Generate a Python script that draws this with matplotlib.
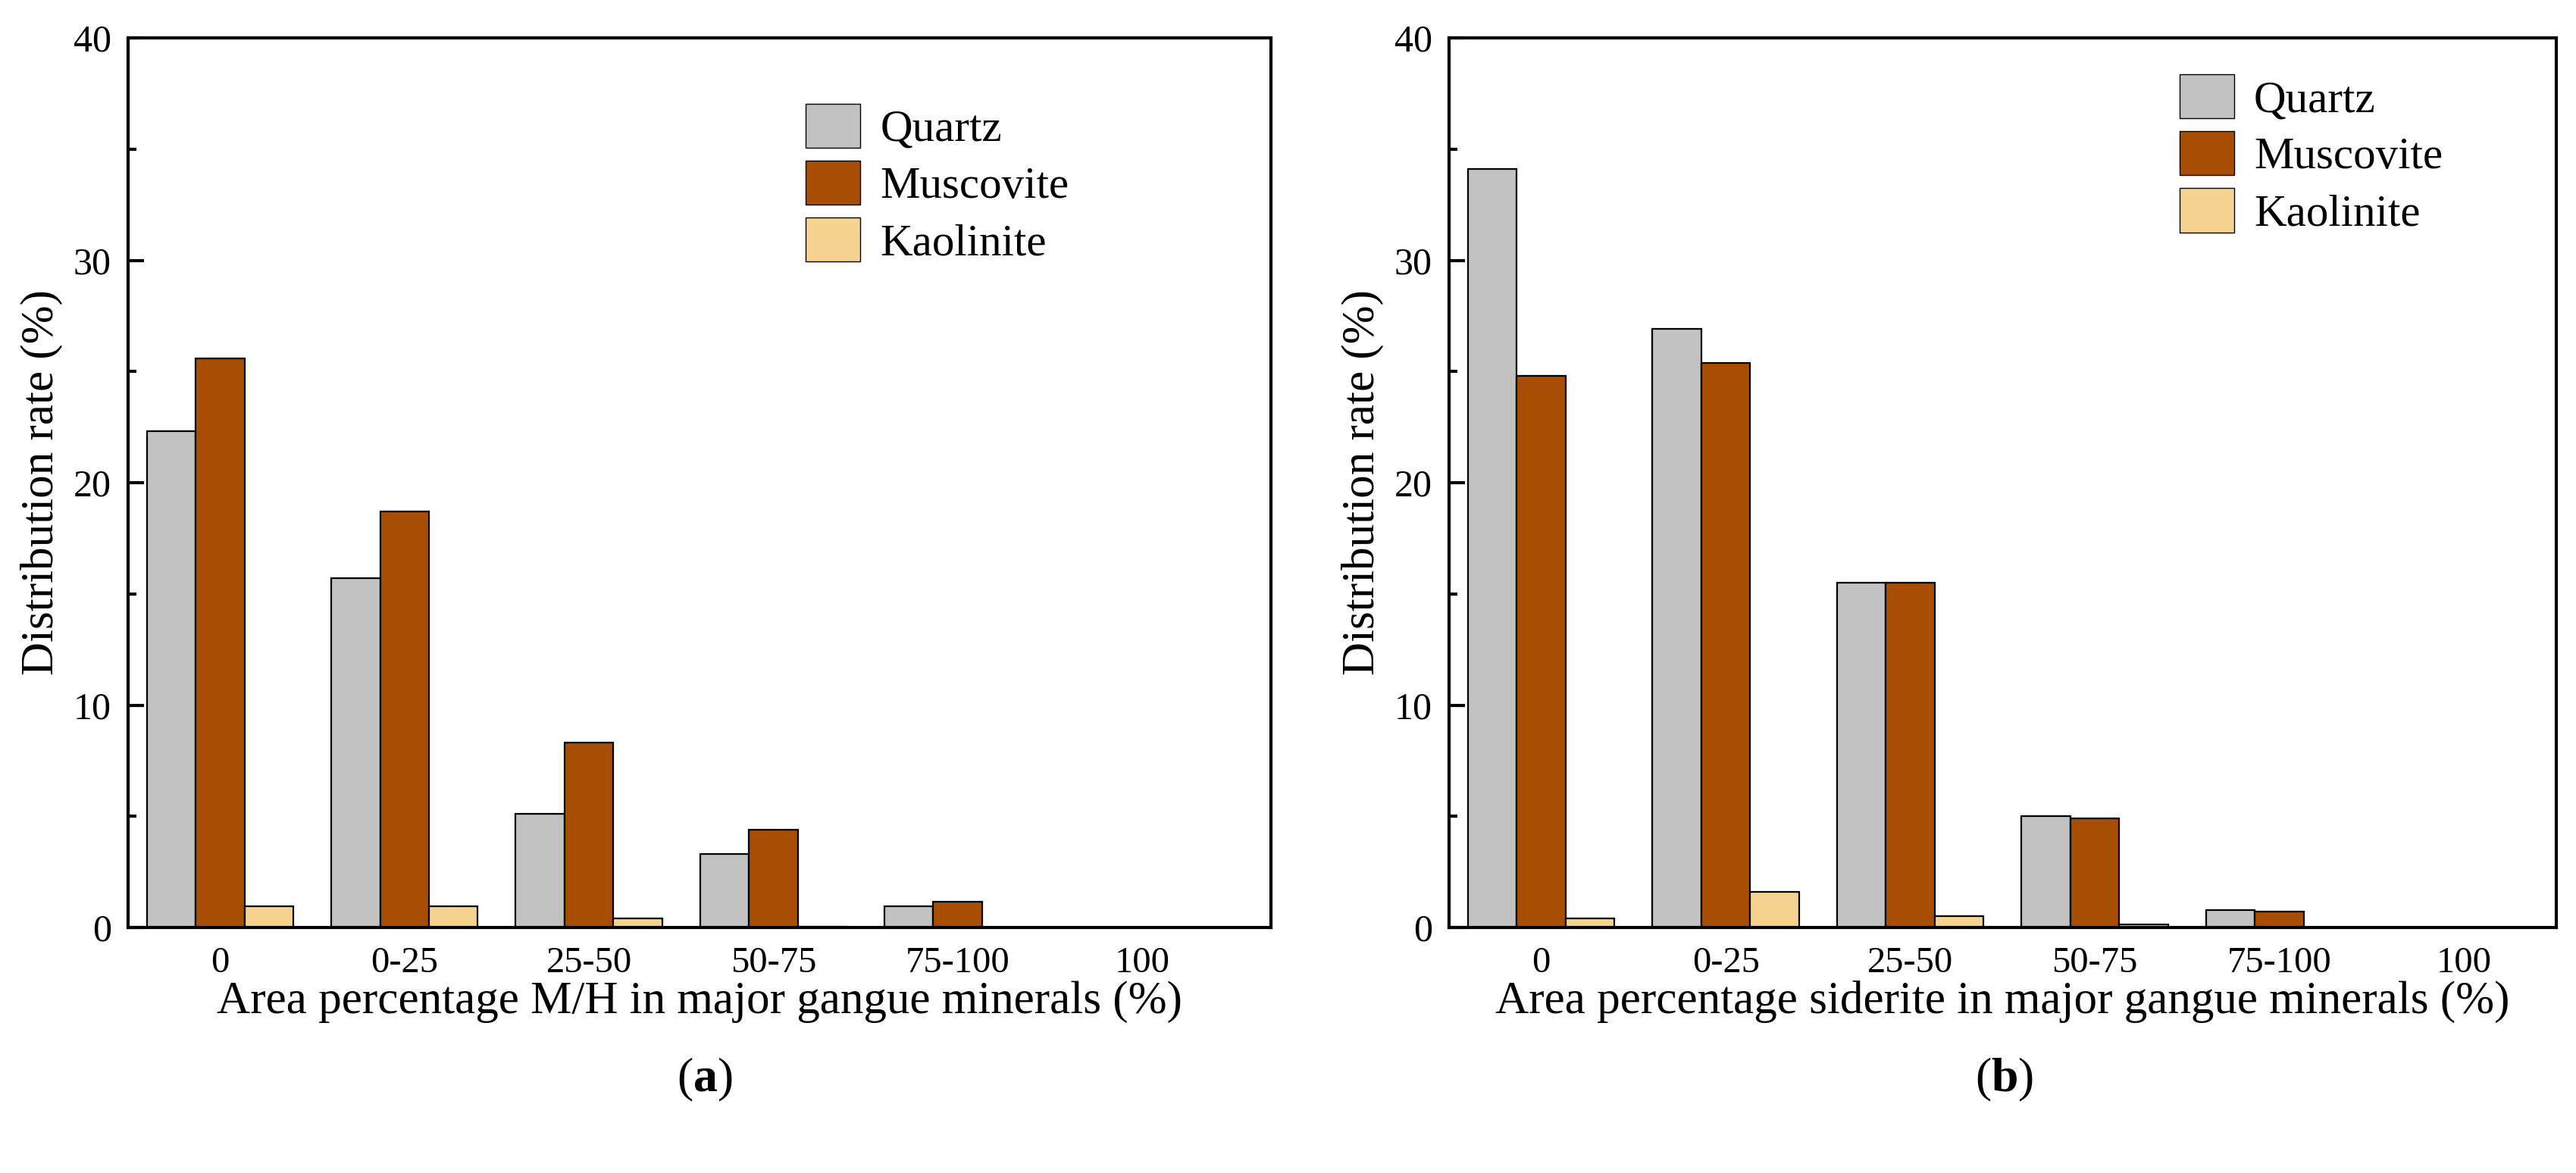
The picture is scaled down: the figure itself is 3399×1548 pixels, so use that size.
import matplotlib.pyplot as plt
import numpy as np
from matplotlib.patches import Patch

plt.rcParams['font.family'] = ['Liberation Serif', 'DejaVu Serif']
plt.rcParams['mathtext.fontset'] = 'custom'
plt.rcParams['mathtext.rm'] = 'Liberation Serif'
plt.rcParams['mathtext.bf'] = 'Liberation Serif:bold'

# data
categories = ['0', '0-25', '25-50', '50-75', '75-100', '100']
minerals = ['Quartz', 'Muscovite', 'Kaolinite']

quartz_mh = [22.3, 15.7, 5.1, 3.3, 0.95, 0.0]
muscovite_mh = [25.6, 18.7, 8.3, 4.4, 1.15, 0.0]
kaolinite_mh = [0.95, 0.95, 0.4, 0.05, 0.0, 0.0]

quartz_sid = [34.1, 26.9, 15.5, 5.0, 0.8, 0.0]
muscovite_sid = [24.8, 25.4, 15.5, 4.9, 0.7, 0.0]
kaolinite_sid = [0.4, 1.6, 0.5, 0.13, 0.0, 0.0]

colors = ['#C2C2C2', '#A84E04', '#F6D391']

fig = plt.figure(figsize=(33.99, 15.48), dpi=100)
ax_a = fig.add_axes([0.0497, 0.2093, 0.4437, 0.7584])
ax_b = fig.add_axes([0.5625, 0.2093, 0.4298, 0.7584])

x = np.arange(len(categories))
w = 0.265


def draw(ax, series, xlabel, leg_anchor, xmax):
    for i, vals in enumerate(series):
        ax.bar(x + (i - 1) * w, vals, w, color=colors[i], edgecolor='black', linewidth=1.6)
    ax.set_xlim(-0.5, xmax)
    ax.set_ylim(0, 40)
    ax.set_xticks(x)
    ax.set_xticklabels(categories)
    ax.set_yticks([0, 10, 20, 30, 40])
    ax.set_yticks([5, 15, 25, 35], minor=True)
    ax.tick_params(axis='y', which='major', direction='in', length=15, width=3,
                   labelsize=36, pad=16, right=False)
    ax.tick_params(axis='y', which='minor', direction='in', length=8, width=3, right=False)
    ax.tick_params(axis='x', length=0, labelsize=35, pad=18)
    for s in ax.spines.values():
        s.set_linewidth(3)
    ax.set_xlabel(xlabel, fontsize=44, labelpad=1)
    ax.set_ylabel('Distribution rate (%)', fontsize=44, labelpad=10)
    handles = [Patch(facecolor=colors[i], edgecolor='black', linewidth=1) for i in range(3)]
    ax.legend(handles, minerals, loc='upper left', bbox_to_anchor=leg_anchor, frameon=False,
              fontsize=42.5, handlelength=1.22, handleheight=1.14, labelspacing=0.22,
              handletextpad=0.44, borderpad=0, borderaxespad=0)


draw(ax_a, [quartz_mh, muscovite_mh, kaolinite_mh],
     'Area percentage M/H in major gangue minerals (%)', (0.593, 0.926), 5.7)
draw(ax_b, [quartz_sid, muscovite_sid, kaolinite_sid],
     'Area percentage siderite in major gangue minerals (%)', (0.66, 0.959), 5.5)

fig.text(930 / 3399, 1 - 1425 / 1548, r'($\mathbf{a}$)', ha='center', va='center', fontsize=46)
fig.text(2645 / 3399, 1 - 1425 / 1548, r'($\mathbf{b}$)', ha='center', va='center', fontsize=46)

fig.savefig('out.png', dpi=100)
